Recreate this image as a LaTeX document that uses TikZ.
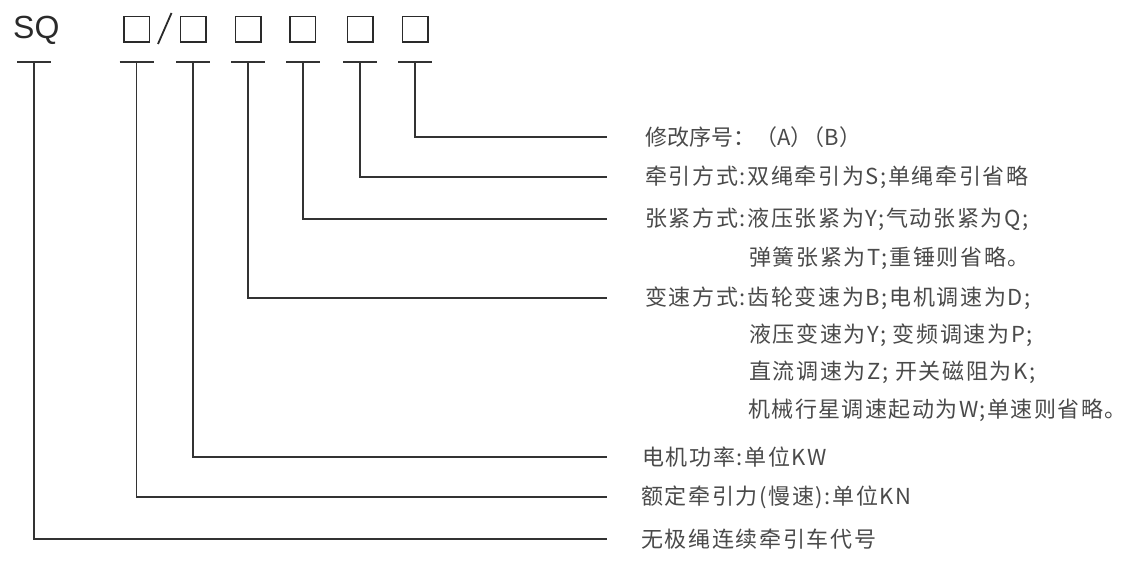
\documentclass[tikz,border=0pt]{standalone}
\usepackage{fontspec}
\setmainfont{Liberation Sans}
\newfontfamily\cjk{Noto Sans CJK SC}
\newfontfamily\cjksp[LetterSpace=7.5]{Noto Sans CJK SC}
\newfontfamily\cjkspn[LetterSpace=6.5]{Noto Sans CJK SC}
\definecolor{txtgray}{HTML}{4A4A4A}
\definecolor{linegray}{HTML}{333333}
\definecolor{boxblack}{HTML}{2A2A2A}
\begin{document}
\begin{tikzpicture}[x=1pt,y=-1pt,
  lbl/.style={anchor=west, inner sep=0pt, text=txtgray, font=\cjksp\fontsize{22}{22}\selectfont},
  lblnarrow/.style={anchor=west, inner sep=0pt, text=txtgray, font=\cjkspn\fontsize{22}{22}\selectfont},
  lblplain/.style={anchor=west, inner sep=0pt, text=txtgray, font=\cjk\fontsize{22}{22}\selectfont},
  conn/.style={draw=linegray, line width=1.4pt},
  phbox/.style={draw=boxblack, line width=1.5pt, minimum size=25.5pt, inner sep=0pt},
  tbarline/.style={draw=linegray, line width=1.4pt}]
\useasboundingbox (0,0) rectangle (1128,561);
% header
\node[anchor=west, inner sep=0pt, text=boxblack, font=\fontsize{32}{32}\selectfont] (sq) at (13,30) {SQ};
\node[phbox] (b1) at (136.5,29.5) {};
\node[phbox] (b2) at (193,29.5) {};
\node[phbox] (b3) at (248,29.5) {};
\node[phbox] (b4) at (302.7,29.5) {};
\node[phbox] (b5) at (360,29.5) {};
\node[phbox] (b6) at (415,29.5) {};
\coordinate (slA) at (158,44);
\coordinate (slB) at (171.5,13);
\draw[draw=boxblack, line width=1.8pt] (slA) -- (slB);
% T markers
\foreach \n/\x in {0/34,1/136.5,2/193,3/248,4/303,5/360,6/415}{
  \coordinate (t\n) at (\x,62);
  \coordinate (t\n l) at (\x-17,62);
  \coordinate (t\n r) at (\x+17,62);
  \draw[tbarline] (t\n l) -- (t\n r);
}
% labels
\node[lblplain] (r1) at (645,137) {修改序号：（A）\kern-10pt（B）};
\node[lbl] (r2) at (645,177) {牵引方式:双绳牵引为S;单绳牵引省略};
\node[lbl] (r3) at (645,219) {张紧方式:液压张紧为Y;气动张紧为Q;};
\node[lbl] (r3b) at (749,258) {弹簧张紧为T;重锤则省略。};
\node[lbl] (r4) at (645,298) {变速方式:齿轮变速为B;电机调速为D;};
\node[lbl] (r4b) at (749,335) {液压变速为Y; 变频调速为P;};
\node[lbl] (r4c) at (749,372) {直流调速为Z; 开关磁阻为K;};
\node[lblnarrow] (r4d) at (748,410) {机械行星调速起动为W;单速则省略。\kern-2pt};
\node[lbl] (r5) at (642,457) {电机功率:单位KW};
\node[lbl] (r6) at (641,497) {额定牵引力(慢速):单位KN};
\node[lbl] (r7) at (641,539) {无极绳连续牵引车代号};
% connector ends
\coordinate (e1) at (607,137);
\coordinate (e2) at (607,177);
\coordinate (e3) at (607,219);
\coordinate (e4) at (607,298);
\coordinate (e5) at (607,457);
\coordinate (e6) at (607,497);
\coordinate (e7) at (607,539);
\draw[conn] (t6) |- (e1);
\draw[conn] (t5) |- (e2);
\draw[conn] (t4) |- (e3);
\draw[conn] (t3) |- (e4);
\draw[conn] (t2) |- (e5);
\draw[conn] (t1) |- (e6);
\draw[conn] (t0) |- (e7);
\end{tikzpicture}
\end{document}
